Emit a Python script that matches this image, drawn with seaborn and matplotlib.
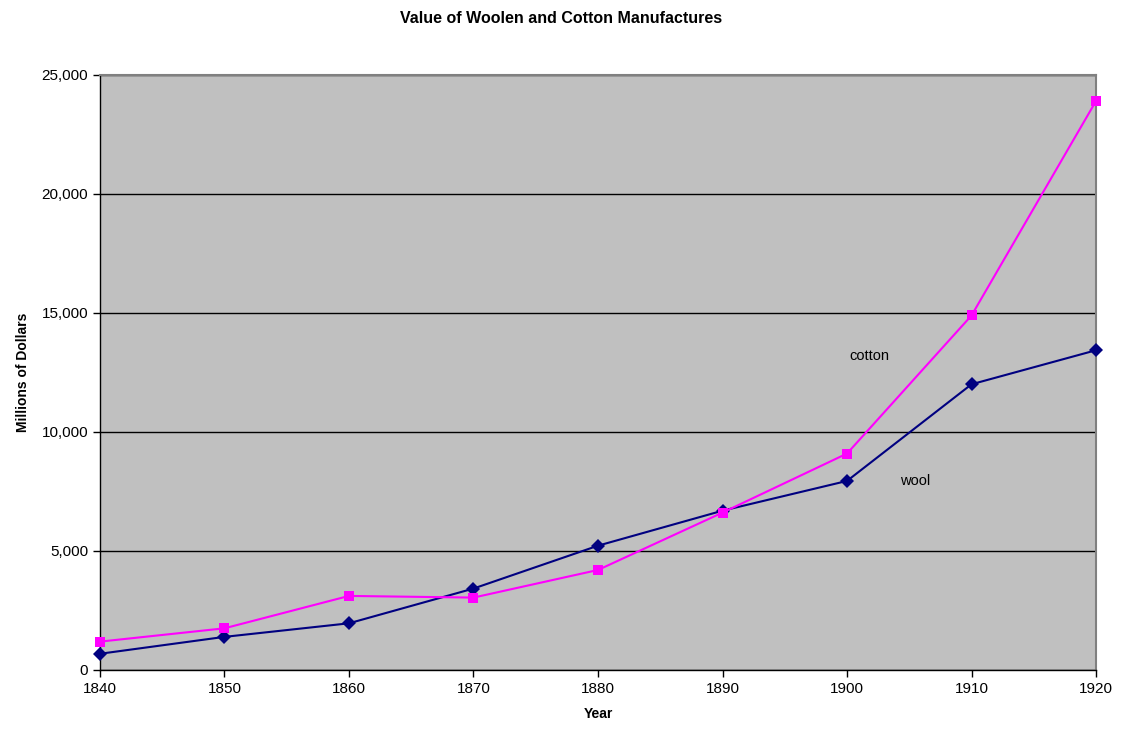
import matplotlib
matplotlib.use("Agg")
import matplotlib.pyplot as plt
import pandas as pd
import seaborn as sns
from matplotlib.ticker import FuncFormatter

# values (millions of dollars)
years = [1840, 1850, 1860, 1870, 1880, 1890, 1900, 1910, 1920]
wool = [680, 1390, 1960, 3420, 5220, 6690, 7940, 12000, 13430]
cotton = [1190, 1750, 3110, 3040, 4200, 6610, 9090, 14890, 23900]

df = pd.DataFrame({"Year": years + years,
                   "Value": wool + cotton,
                   "Fiber": ["wool"] * len(years) + ["cotton"] * len(years)})

sns.set_style("white")
plt.rcParams['font.family'] = ['Liberation Sans', 'DejaVu Sans']
plt.rcParams['text.color'] = 'black'
plt.rcParams['axes.labelcolor'] = 'black'
plt.rcParams['xtick.color'] = 'black'
plt.rcParams['ytick.color'] = 'black'

fig = plt.figure(figsize=(11.23, 7.33), dpi=100)
ax = fig.add_axes([0.089, 0.086, 0.887, 0.812])
ax.set_facecolor("#c0c0c0")

sns.lineplot(data=df, x="Year", y="Value", hue="Fiber", style="Fiber",
             palette={"wool": "#000080", "cotton": "#ff00ff"},
             markers={"wool": "D", "cotton": "s"}, dashes=False,
             markersize=7, markeredgewidth=0, linewidth=1.5,
             legend=False, ax=ax, zorder=3)
for ln in ax.lines:
    ln.set_clip_on(False)

ax.set_xlim(1840, 1920)
ax.set_ylim(0, 25000)
ax.set_xticks(years)
ax.set_yticks(range(0, 25001, 5000))
ax.yaxis.set_major_formatter(FuncFormatter(lambda v, p: f"{int(v):,}"))
ax.grid(axis="y", color="black", linewidth=1)
ax.set_axisbelow(True)
for s in ax.spines.values():
    s.set_color("#808080")
    s.set_linewidth(1.5)
ax.spines["left"].set_color("black")
ax.spines["bottom"].set_color("black")
ax.spines["left"].set_linewidth(1)
ax.spines["bottom"].set_linewidth(1)
ax.tick_params(direction="out", length=5, width=1, color="black",
               labelsize=11, bottom=True, left=True)

ax.set_xlabel("Year", fontsize=10, fontweight="bold", labelpad=8)
ax.set_ylabel("Millions of Dollars", fontsize=10, fontweight="bold", labelpad=8)
fig.suptitle("Value of Woolen and Cotton Manufactures", fontsize=11.5,
             fontweight="bold", y=0.985)

ax.text(1901.8, 13190, "cotton", fontsize=10.5, ha="center", va="center")
ax.text(1905.5, 7940, "wool", fontsize=10.5, ha="center", va="center")

fig.savefig("out.png", dpi=100)
